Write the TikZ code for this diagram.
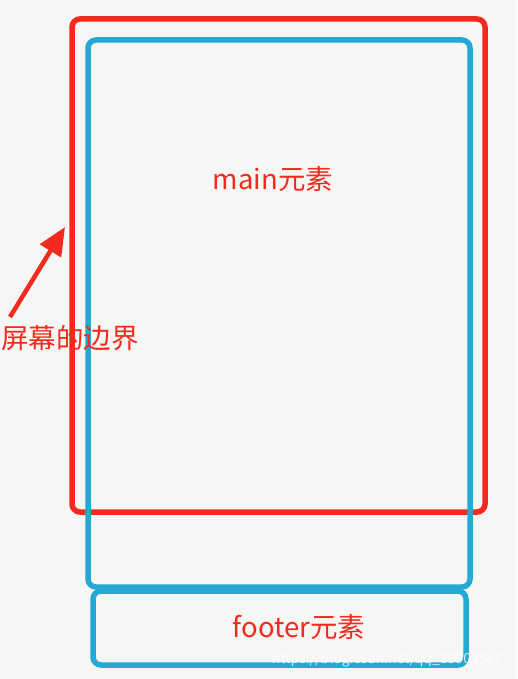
\documentclass[tikz,border=0pt]{standalone}
\usepackage{fontspec}
\setmainfont{Noto Sans CJK SC}
\usetikzlibrary{arrows.meta}
\definecolor{paper}{HTML}{F6F6F4}
\definecolor{scrred}{HTML}{F52A1E}
\definecolor{elblue}{HTML}{24A9D5}
\definecolor{wmark}{HTML}{FFFFFF}
\tikzset{
  screenbox/.style={draw=scrred, line width=5.5pt, rounded corners=8pt},
  elembox/.style={draw=elblue, line width=5.5pt, rounded corners=8pt},
  lbl/.style={text=scrred, font=\fontsize{27.5}{30}\selectfont, inner sep=0pt},
  pointer/.style={draw=scrred, line width=4.5pt, -{Triangle[length=28pt,width=24pt]}}
}
\begin{document}
\begin{tikzpicture}[x=1pt,y=-1pt]
\fill[paper] (0,0) rectangle (517,679);
\useasboundingbox (0,0) rectangle (517,679);
\draw[screenbox] (72,19) rectangle (485,512);
\draw[elembox] (88,40) rectangle (470,587);
\draw[elembox] (93,591) rectangle (466,665);
\node[lbl] (main) at (273,179) {main元素};
\node[lbl] (footer) at (299,627) {footer元素};
\node[lbl, anchor=west] (edge) at (1,338) {屏幕的边界};
\coordinate (tail) at (10,317);
\coordinate (tip) at (65,227);
\draw[pointer] (tail) -- (tip);
\node[text=wmark, font=\fontsize{14}{16}\selectfont, opacity=0.8] (wm) at (387,660) {https://blog.csdn.net/qq\_39903567};
\end{tikzpicture}
\end{document}
